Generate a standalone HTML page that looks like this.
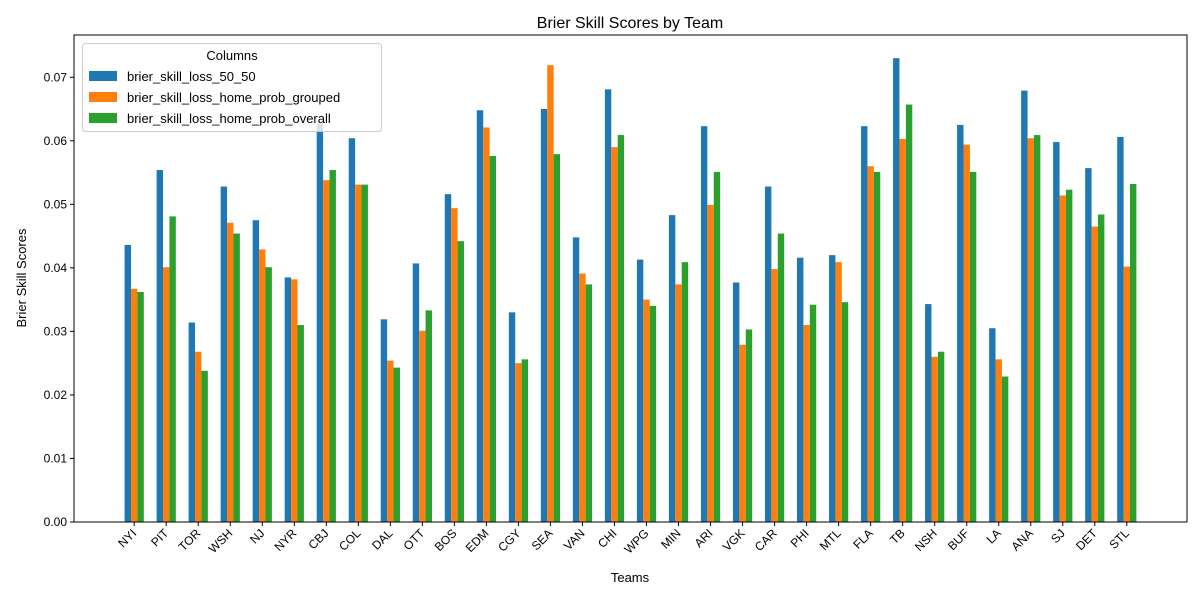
<!DOCTYPE html>
<html><head><meta charset="utf-8"><style>body{margin:0;background:#fff}svg{font-family:"Liberation Sans","DejaVu Sans",sans-serif}</style></head>
<body>
<svg id="c" width="1200" height="600" xmlns="http://www.w3.org/2000/svg">
<rect width="1200" height="600" fill="#fff"/>
<text x="630" y="28" font-size="16" text-anchor="middle">Brier Skill Scores by Team</text>
<g id="plot"></g>
<text x="630" y="582" font-size="13" text-anchor="middle">Teams</text>
<text transform="translate(26,278) rotate(-90)" font-size="13" text-anchor="middle">Brier Skill Scores</text>
</svg>
<script>
const teams=["NYI","PIT","TOR","WSH","NJ","NYR","CBJ","COL","DAL","OTT","BOS","EDM","CGY","SEA","VAN","CHI","WPG","MIN","ARI","VGK","CAR","PHI","MTL","FLA","TB","NSH","BUF","LA","ANA","SJ","DET","STL"];
const s5050=[0.0436,0.0554,0.0314,0.0528,0.0475,0.0385,0.0627,0.0604,0.0319,0.0407,0.0516,0.0648,0.0330,0.0650,0.0448,0.0681,0.0413,0.0483,0.0623,0.0377,0.0528,0.0416,0.0420,0.0623,0.0730,0.0343,0.0625,0.0305,0.0679,0.0598,0.0557,0.0606];
const sGrouped=[0.0367,0.0401,0.0268,0.0471,0.0429,0.0382,0.0538,0.0531,0.0254,0.0301,0.0494,0.0621,0.0250,0.0719,0.0391,0.0590,0.0350,0.0374,0.0499,0.0279,0.0398,0.0310,0.0409,0.0560,0.0603,0.0260,0.0594,0.0256,0.0604,0.0514,0.0465,0.0402];
const sOverall=[0.0362,0.0481,0.0238,0.0454,0.0401,0.0310,0.0554,0.0531,0.0243,0.0333,0.0442,0.0576,0.0256,0.0579,0.0374,0.0609,0.0340,0.0409,0.0551,0.0303,0.0454,0.0342,0.0346,0.0551,0.0657,0.0268,0.0551,0.0229,0.0609,0.0523,0.0484,0.0532];
const yTicks=[0,0.01,0.02,0.03,0.04,0.05,0.06,0.07];
const seriesNames=["brier_skill_loss_50_50","brier_skill_loss_home_prob_grouped","brier_skill_loss_home_prob_overall"];
const colors=["#1f77b4","#ff7f0e","#2ca02c"];
const L=74,R=1187,T=35,B=522;
const n=teams.length;
const xmin=-0.3-0.05*(n-1+0.6),xmax=n-1+0.3+0.05*(n-1+0.6);
const X=v=>L+(v-xmin)/(xmax-xmin)*(R-L);
const ymax=0.0730*1.05;
const Y=v=>B-v/ymax*(B-T);
const g=document.getElementById('plot');
const NS="http://www.w3.org/2000/svg";
function mk(t,a){const e=document.createElementNS(NS,t);for(const k in a)e.setAttribute(k,a[k]);g.appendChild(e);return e;}
const all=[s5050,sGrouped,sOverall];
const bw=(X(0.2)-X(0));
all.forEach((arr,si)=>{arr.forEach((v,i)=>{const x=X(i+(si-1)*0.2)-bw/2;
const r=mk('rect',{x:x,y:Y(v),width:bw,height:B-Y(v),fill:colors[si]});

});});
yTicks.forEach(t=>{const y=Y(t);
const l=mk('line',{x1:L-4,x2:L,y1:y,y2:y,stroke:'#000'});


const tx=mk('text',{x:L-7,y:y+4,'font-size':12,'text-anchor':'end'});tx.textContent=t.toFixed(2);

});
teams.forEach((t,i)=>{const x=X(i);
const l=mk('line',{x1:x,x2:x,y1:B,y2:B+4,stroke:'#000'});


const tx=mk('text',{transform:`translate(${x+3},${B+12}) rotate(-45)`,'font-size':12,'text-anchor':'end'});tx.textContent=t;

});
const fr=mk('rect',{x:L,y:T,width:R-L,height:B-T,fill:'none',stroke:'#000','stroke-width':1});


const lg=mk('rect',{x:82.5,y:43.5,width:299,height:88,rx:3,fill:'#fff','fill-opacity':0.8,stroke:'#ccc'});


const lt=mk('text',{x:232,y:60,'font-size':13,'text-anchor':'middle'});lt.textContent='Columns';


seriesNames.forEach((s,i)=>{const y=71+i*21;
const p=mk('rect',{x:89,y:y,width:28,height:10,fill:colors[i]});


const tx=mk('text',{x:127,y:y+10,'font-size':13});tx.textContent=s;

});
</script>
</body></html>
